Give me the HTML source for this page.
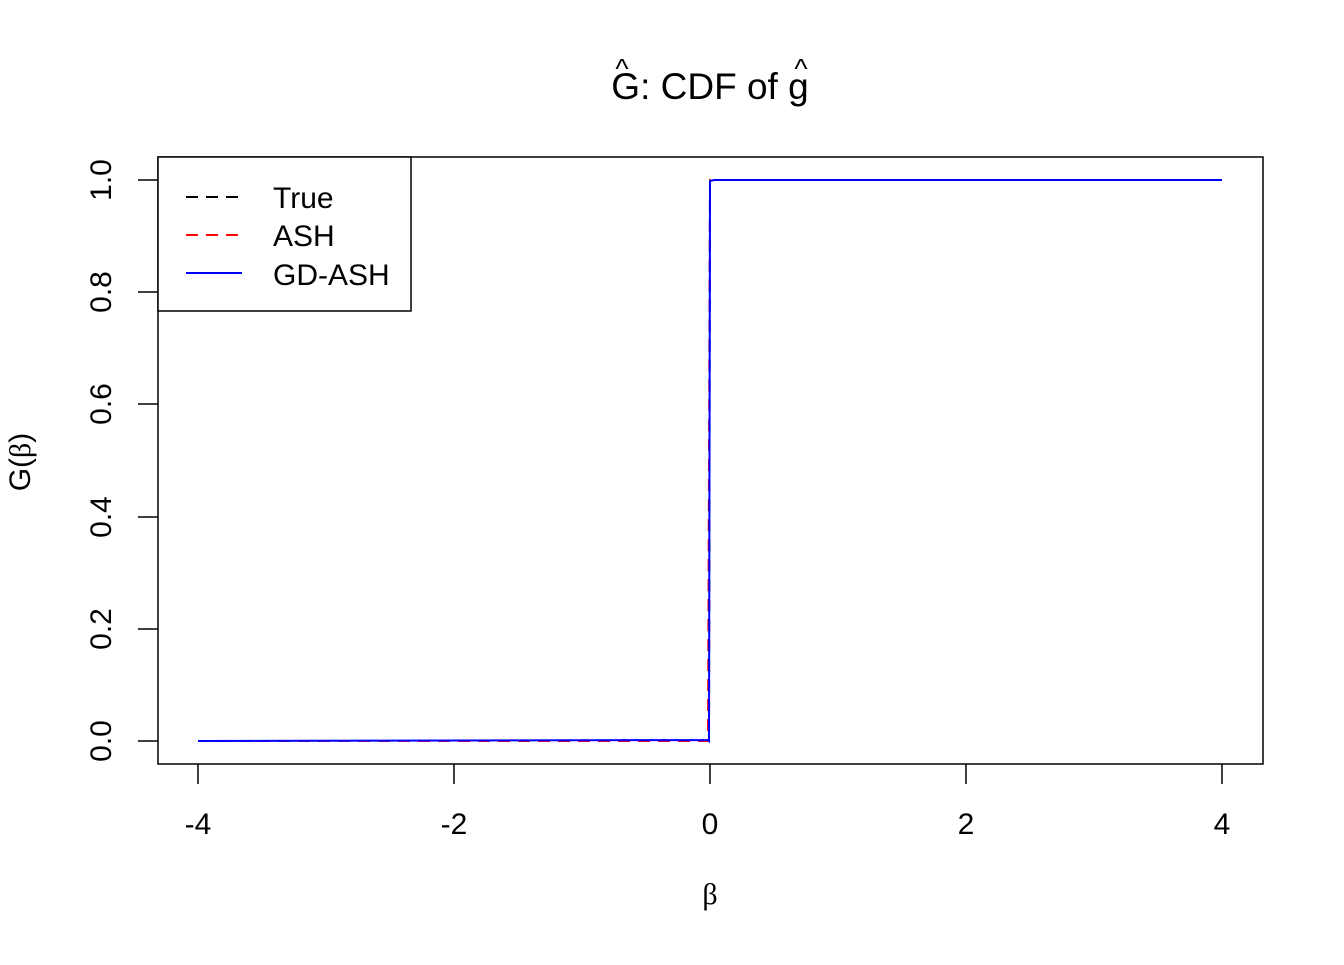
<!DOCTYPE html>
<html><head><meta charset="utf-8"><style>body{margin:0;background:#fff}</style></head>
<body>
<svg width="1344" height="960" xmlns="http://www.w3.org/2000/svg" font-family="Liberation Sans, sans-serif">
<rect width="1344" height="960" fill="#fff"/>
<text x="710" y="99" font-size="37" text-anchor="middle">G: CDF of g</text>
<text x="622" y="78" font-size="28" text-anchor="middle">^</text>
<text x="801" y="78" font-size="28" text-anchor="middle">^</text>
<rect x="158" y="157" width="1105" height="607" fill="none" stroke="#000" stroke-width="1.5"/>
<g stroke="#000" stroke-width="1.5">
<line x1="198" y1="764" x2="198" y2="784"/><line x1="454" y1="764" x2="454" y2="784"/><line x1="710" y1="764" x2="710" y2="784"/><line x1="966" y1="764" x2="966" y2="784"/><line x1="1222" y1="764" x2="1222" y2="784"/>
<line x1="158" y1="741" x2="138" y2="741"/><line x1="158" y1="629" x2="138" y2="629"/><line x1="158" y1="517" x2="138" y2="517"/><line x1="158" y1="404" x2="138" y2="404"/><line x1="158" y1="292" x2="138" y2="292"/><line x1="158" y1="180" x2="138" y2="180"/>
</g>
<g font-size="30" text-anchor="middle">
<text x="198" y="834">-4</text><text x="454" y="834">-2</text><text x="710" y="834">0</text><text x="966" y="834">2</text><text x="1222" y="834">4</text>
<text transform="translate(111,741) rotate(-90)">0.0</text>
<text transform="translate(111,629) rotate(-90)">0.2</text>
<text transform="translate(111,517) rotate(-90)">0.4</text>
<text transform="translate(111,404) rotate(-90)">0.6</text>
<text transform="translate(111,292) rotate(-90)">0.8</text>
<text transform="translate(111,180) rotate(-90)">1.0</text>
<text x="710" y="904" font-family="Liberation Serif, serif">β</text>
<text transform="translate(30,462) rotate(-90)">G(<tspan font-family="Liberation Serif, serif">β</tspan>)</text>
</g>
<g fill="none" stroke-width="2">
<polyline points="198,741 709,741 710,180 1222,180" stroke="#000" stroke-dasharray="12,8"/>
<polyline points="198,741 708,741 710,180 1222,180" stroke="#f00" stroke-dasharray="12,8"/>
<polyline points="198,741 708,740 709,741 710,181 714,180 1222,180" stroke="#00f"/>
</g>
<rect x="158" y="157" width="253" height="154" fill="#fff" stroke="#000" stroke-width="1.5"/>
<line x1="186" y1="197" x2="242" y2="197" stroke="#000" stroke-width="2" stroke-dasharray="12,8"/>
<line x1="186" y1="235" x2="242" y2="235" stroke="#f00" stroke-width="2" stroke-dasharray="12,8"/>
<line x1="186" y1="273" x2="242" y2="273" stroke="#00f" stroke-width="2"/>
<g font-size="30"><text x="273" y="208">True</text><text x="273" y="246">ASH</text><text x="273" y="285">GD-ASH</text></g>
</svg>
</body></html>
